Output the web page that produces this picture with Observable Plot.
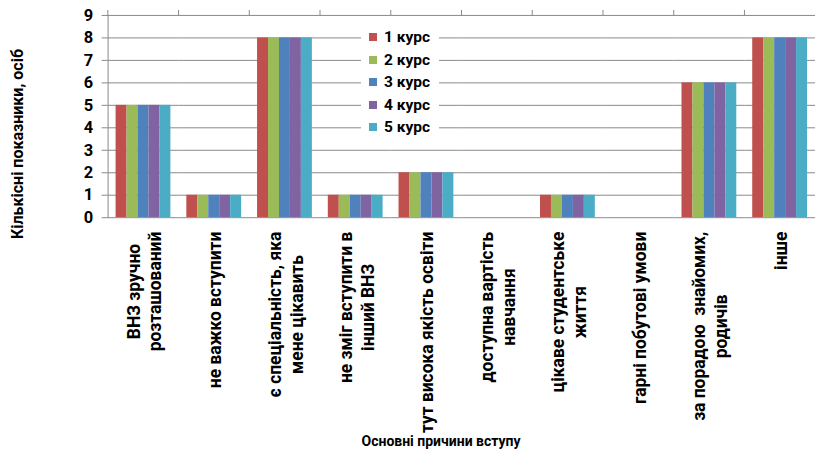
<!DOCTYPE html>
<html><head><meta charset="utf-8">
<script src="https://cdn.jsdelivr.net/npm/d3@7"></script>
<script src="https://cdn.jsdelivr.net/npm/@observablehq/plot@0.6"></script>
<style>
body{margin:0;background:#fff;overflow:hidden}
#wrap{position:relative;width:818px;height:451px;overflow:hidden;font-family:Roboto,"Noto Sans",sans-serif;font-weight:bold;color:#000}
#wrap svg{position:absolute;left:0;top:0}
.lg{position:absolute;background:#fff}
.lg .row{display:flex;align-items:center;height:22.5px}
.lg .sw{width:8px;height:8px;margin-left:8px;margin-right:7px}
.lg span{font-size:15.5px}
.ttl{position:absolute;white-space:nowrap;font-size:14px;transform:translate(-50%,-50%)}
.ttl.y{font-size:16px;transform:translate(-50%,-50%) rotate(-90deg)}
</style></head><body><div id="wrap"></div>
<script>
const categories = [
  "ВНЗ зручно\nрозташований",
  "не важко вступити",
  "є спеціальність, яка\nмене цікавить",
  "не зміг вступити в\nінший ВНЗ",
  "тут висока якість освіти",
  "доступна вартість\nнавчання",
  "цікаве студентське\nжиття",
  "гарні побутові умови",
  "за порадою  знайомих,\nродичів",
  "інше"
];
const courses = ["1 курс", "2 курс", "3 курс", "4 курс", "5 курс"];
const course1 = [5, 1, 8, 1, 2, 0, 1, 0, 6, 8];
const course2 = [5, 1, 8, 1, 2, 0, 1, 0, 6, 8];
const course3 = [5, 1, 8, 1, 2, 0, 1, 0, 6, 8];
const course4 = [5, 1, 8, 1, 2, 0, 1, 0, 6, 8];
const course5 = [5, 1, 8, 1, 2, 0, 1, 0, 6, 8];
const colors = ["#C0504D", "#9BBB59", "#4F81BD", "#8064A2", "#4BACC6"];
const yTicks = [0, 1, 2, 3, 4, 5, 6, 7, 8, 9];
const yTitle = "Кількісні показники, осіб";
const xTitle = "Основні причини вступу";

const series = [course1, course2, course3, course4, course5];
const data = categories.flatMap((c, i) => courses.map((k, j) => ({cat: c, course: k, value: series[j][i]})));

const W = 821, ML = 105, MR = 0, MT = 15, MB = 233, H = 451;
const step = (W - ML - MR) / categories.length;
const labelFont = 17.5, labelLH = 1.25;
const gray = "#8a8a8a";

const ctx = document.createElement("canvas").getContext("2d");
ctx.font = `bold ${labelFont}px Roboto`;
const blockLen = (c) => Math.max(...c.split("\n").map(s => ctx.measureText(s).width));

const labelMarks = categories.map(c => Plot.text([c], {
  fx: d => d, text: d => d, frameAnchor: "bottom", rotate: -90,
  textAnchor: "middle", lineAnchor: "middle", lineHeight: labelLH,
  fontSize: labelFont, fontWeight: "bold", fill: "#000",
  dy: 14 + blockLen(c) / 2
}));

const chart = Plot.plot({
  width: W, height: H, marginLeft: ML, marginRight: MR, marginTop: MT, marginBottom: MB,
  style: {fontFamily: "Roboto, 'Noto Sans', sans-serif", fontWeight: "bold", color: "#000", background: "transparent", overflow: "visible"},
  fx: {domain: categories, padding: 0, label: null},
  x: {domain: courses, paddingInner: 0, paddingOuter: 0.71, axis: null},
  y: {domain: [0, 9], label: null},
  color: {domain: courses, range: colors},
  marks: [
    Plot.gridY(yTicks, {stroke: gray, strokeOpacity: 1}),
    Plot.barY(data, {fx: "cat", x: "course", y: "value", fill: "course"}),
    Plot.axisY(yTicks, {tickSize: 6, tickPadding: 9, fontSize: 16.5, stroke: gray, label: null}),
    Plot.frame({anchor: "left", facetAnchor: "left", stroke: gray}),
    Plot.axisFx({tickSize: 6, tickFormat: () => "", dx: -step / 2, stroke: gray, label: null}),
    ...labelMarks
  ]
});
const wrap = document.getElementById("wrap");
wrap.appendChild(chart);

// legend (inside plot area)
const lg = document.createElement("div");
lg.className = "lg";
lg.style.left = "361px"; lg.style.top = "25.75px"; lg.style.width = "78px";
courses.forEach((k, j) => {
  const r = document.createElement("div"); r.className = "row";
  const s = document.createElement("div"); s.className = "sw"; s.style.background = colors[j];
  const t = document.createElement("span"); t.textContent = k;
  r.appendChild(s); r.appendChild(t); lg.appendChild(r);
});
wrap.appendChild(lg);

const yt = document.createElement("div");
yt.className = "ttl y"; yt.textContent = yTitle; yt.style.left = "17px"; yt.style.top = "144px";
wrap.appendChild(yt);
const xt = document.createElement("div");
xt.className = "ttl"; xt.textContent = xTitle; xt.style.left = "441px"; xt.style.top = "441px";
wrap.appendChild(xt);
</script></body></html>
